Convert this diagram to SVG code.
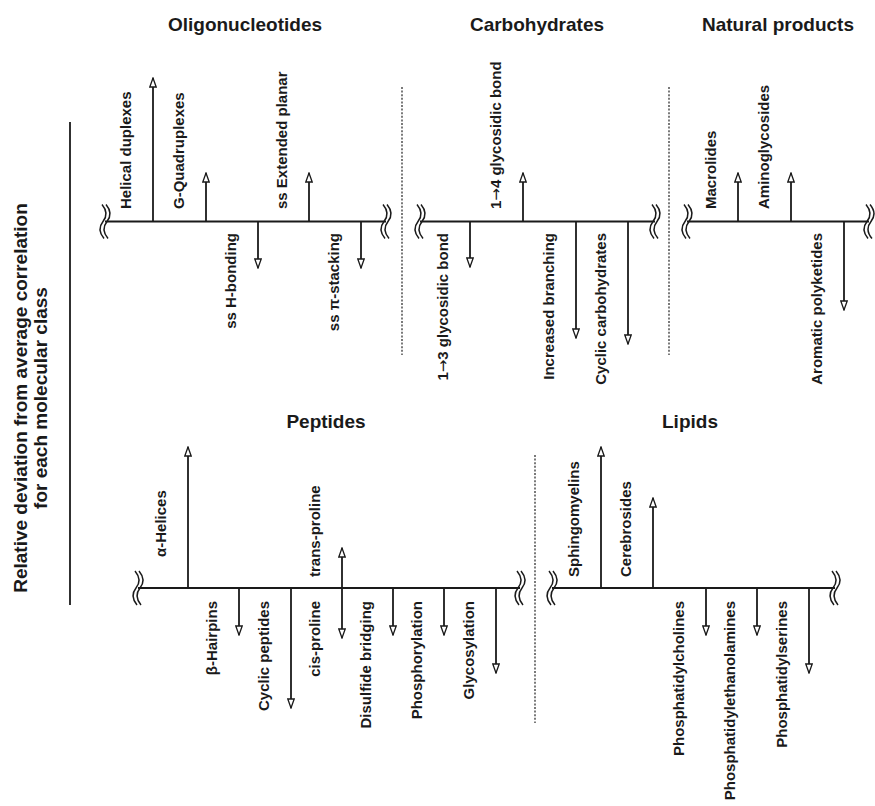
<svg xmlns="http://www.w3.org/2000/svg" xmlns:xlink="http://www.w3.org/1999/xlink" width="875" height="806" viewBox="0 0 875 806">
<defs>
<style>
text{font-family:"Liberation Sans",Arial,Helvetica,sans-serif;fill:#1a1a1a;font-weight:bold}
.title{font-size:19px;text-anchor:middle}
.ylab{font-size:19px;text-anchor:middle}
.lab{font-size:15px}
.up{text-anchor:start}
.dn{text-anchor:end}
.sym{font-family:"DejaVu Sans",sans-serif;font-weight:normal}
.axis{stroke:#1a1a1a;stroke-width:1.8;fill:none}
.arr{stroke:#1a1a1a;stroke-width:1.8;fill:none;marker-end:url(#ah)}
.dash{stroke:#333;stroke-width:1.3;stroke-dasharray:2 1.6;fill:none}
.brk{stroke:#1a1a1a;stroke-width:1.5;fill:none}
</style>
<marker id="ah" viewBox="0 0 11 8" refX="10" refY="4" markerWidth="11" markerHeight="8" markerUnits="userSpaceOnUse" orient="auto">
<path d="M1,0.8 L10,4 L1,7.2 Z" fill="#fff" stroke="#1a1a1a" stroke-width="1.3"/>
</marker>
<g id="brk">
<path class="brk" d="M-3,-17 C2,-11 2,-5 -2,0 C-6,5 -6,11 -1,17"/>
<path class="brk" d="M1,-17 C6,-11 6,-5 2,0 C-2,5 -2,11 3,17"/>
</g>
</defs>
<rect width="875" height="806" fill="#fff"/>

<g id="yaxis-label">
<text class="ylab" transform="translate(27,398) rotate(-90)">Relative deviation from average correlation</text>
<text class="ylab" transform="translate(47,398) rotate(-90)">for each molecular class</text>
<line class="axis" x1="70" y1="122" x2="70" y2="605"/>
</g>

<g id="connectors">
<line class="dash" x1="402" y1="87" x2="402" y2="355"/>
<line class="dash" x1="669" y1="87" x2="669" y2="355"/>
<line class="dash" x1="535" y1="455" x2="535" y2="723"/>
<line class="axis" x1="105" y1="221.5" x2="386" y2="221.5"/>
<line class="axis" x1="420" y1="221.5" x2="655" y2="221.5"/>
<line class="axis" x1="687" y1="221.5" x2="869" y2="221.5"/>
<line class="axis" x1="138" y1="588" x2="520" y2="588"/>
<line class="axis" x1="552" y1="588" x2="835" y2="588"/>
<g>
<use xlink:href="#brk" x="105" y="221.5"/>
<use xlink:href="#brk" x="386" y="221.5"/>
<use xlink:href="#brk" x="420" y="221.5"/>
<use xlink:href="#brk" x="655" y="221.5"/>
<use xlink:href="#brk" x="687" y="221.5"/>
<use xlink:href="#brk" x="869" y="221.5"/>
<use xlink:href="#brk" x="138" y="588"/>
<use xlink:href="#brk" x="520" y="588"/>
<use xlink:href="#brk" x="552" y="588"/>
<use xlink:href="#brk" x="835" y="588"/>
</g>
</g>

<g id="oligonucleotides">
<text class="title" x="245" y="31">Oligonucleotides</text>
<path class="arr" d="M153,221.5 V78"/>
<path class="arr" d="M206,221.5 V173"/>
<path class="arr" d="M258,221.5 V268"/>
<path class="arr" d="M309,221.5 V173"/>
<path class="arr" d="M361,221.5 V268"/>
<text class="lab up" transform="translate(131,209) rotate(-90)">Helical duplexes</text>
<text class="lab up" transform="translate(184,209) rotate(-90)">G-Quadruplexes</text>
<text class="lab dn" transform="translate(236,233) rotate(-90)">ss H-bonding</text>
<text class="lab up" transform="translate(287,209) rotate(-90)">ss Extended planar</text>
<text class="lab dn" transform="translate(339,233) rotate(-90)">ss π-stacking</text>
</g>

<g id="carbohydrates">
<text class="title" x="537" y="31">Carbohydrates</text>
<path class="arr" d="M470,221.5 V267"/>
<path class="arr" d="M523,221.5 V173"/>
<path class="arr" d="M576,221.5 V338"/>
<path class="arr" d="M628,221.5 V344"/>
<text class="lab dn" transform="translate(448,233) rotate(-90)">1<tspan class="sym">→</tspan>3 glycosidic bond</text>
<text class="lab up" transform="translate(501,209) rotate(-90)">1<tspan class="sym">→</tspan>4 glycosidic bond</text>
<text class="lab dn" transform="translate(554,233) rotate(-90)">Increased branching</text>
<text class="lab dn" transform="translate(606,233) rotate(-90)">Cyclic carbohydrates</text>
</g>

<g id="natural-products">
<text class="title" x="778" y="31">Natural products</text>
<path class="arr" d="M738,221.5 V173"/>
<path class="arr" d="M791,221.5 V173"/>
<path class="arr" d="M844,221.5 V310"/>
<text class="lab up" transform="translate(716,209) rotate(-90)">Macrolides</text>
<text class="lab up" transform="translate(769,209) rotate(-90)">Aminoglycosides</text>
<text class="lab dn" transform="translate(822,233) rotate(-90)">Aromatic polyketides</text>
</g>

<g id="peptides">
<text class="title" x="326" y="428">Peptides</text>
<path class="arr" d="M188,588 V447"/>
<path class="arr" d="M239,588 V635"/>
<path class="arr" d="M291,588 V708"/>
<path class="arr" d="M342,588 V548"/>
<path class="arr" d="M342,588 V638"/>
<path class="arr" d="M393,588 V635"/>
<path class="arr" d="M444,588 V635"/>
<path class="arr" d="M496,588 V673"/>
<text class="lab up" transform="translate(166,557) rotate(-90)">α-Helices</text>
<text class="lab dn" transform="translate(217,601) rotate(-90)">β-Hairpins</text>
<text class="lab dn" transform="translate(269,601) rotate(-90)">Cyclic peptides</text>
<text class="lab up" transform="translate(320,577) rotate(-90)">trans-proline</text>
<text class="lab dn" transform="translate(320,601) rotate(-90)">cis-proline</text>
<text class="lab dn" transform="translate(371,601) rotate(-90)">Disulfide bridging</text>
<text class="lab dn" transform="translate(422,601) rotate(-90)">Phosphorylation</text>
<text class="lab dn" transform="translate(474,601) rotate(-90)">Glycosylation</text>
</g>

<g id="lipids">
<text class="title" x="690" y="428">Lipids</text>
<path class="arr" d="M601,588 V447"/>
<path class="arr" d="M653,588 V498"/>
<path class="arr" d="M706,588 V635"/>
<path class="arr" d="M757,588 V635"/>
<path class="arr" d="M809,588 V673"/>
<text class="lab up" transform="translate(579,577) rotate(-90)">Sphingomyelins</text>
<text class="lab up" transform="translate(631,577) rotate(-90)">Cerebrosides</text>
<text class="lab dn" transform="translate(684,601) rotate(-90)">Phosphatidylcholines</text>
<text class="lab dn" transform="translate(735,601) rotate(-90)">Phosphatidylethanolamines</text>
<text class="lab dn" transform="translate(787,601) rotate(-90)">Phosphatidylserines</text>
</g>
</svg>
